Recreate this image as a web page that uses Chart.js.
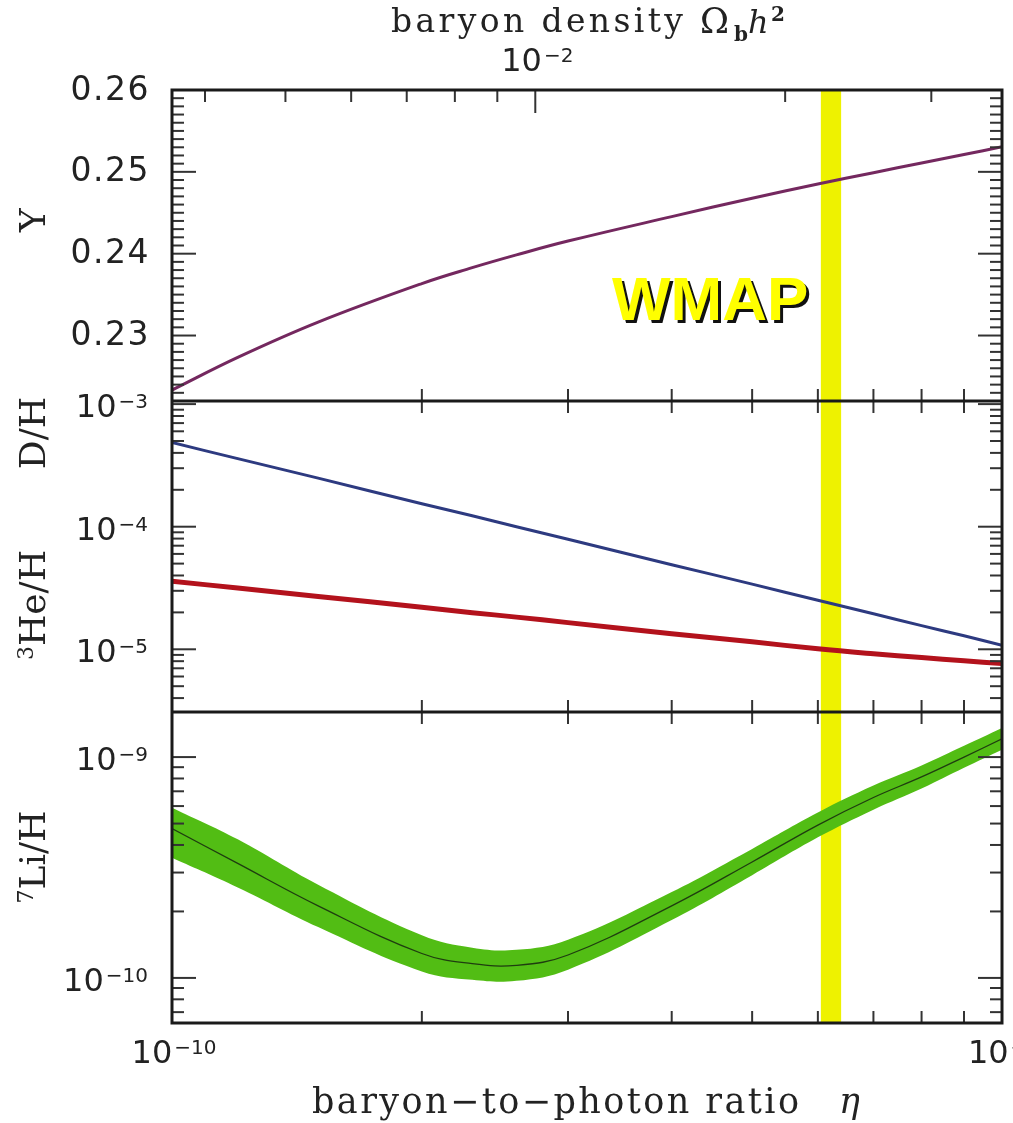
<!DOCTYPE html>
<html>
<head>
<meta charset="utf-8">
<script src="https://cdn.jsdelivr.net/npm/chart.js@4.4.1/dist/chart.umd.min.js"></script>
<style>
  html, body { margin: 0; padding: 0; background: #fff; }
  canvas { display: block; }
</style>
</head>
<body>
<canvas id="bbnChart" width="1013" height="1123"></canvas>
<script>
// baryon-to-photon ratio (eta) grid
const eta = [1.0e-10, 1.2e-10, 1.5e-10, 2.0e-10, 2.3e-10, 2.6e-10, 3.0e-10, 4.0e-10, 5.0e-10, 6.0e-10, 7.0e-10, 8.0e-10, 9.0e-10, 1.0e-9];

// helium-4 mass fraction Y
const heliumY = [0.22334, 0.22733, 0.23164, 0.23635, 0.23829, 0.23985, 0.24154, 0.24453, 0.24678, 0.24852, 0.24990, 0.25108, 0.25211, 0.25306];
// D/H and 3He/H
const deuterium = [4.86e-4, 3.59e-4, 2.49e-4, 1.54e-4, 1.23e-4, 1.0e-4, 7.9e-5, 4.9e-5, 3.4e-5, 2.51e-5, 1.95e-5, 1.56e-5, 1.29e-5, 1.08e-5];
const helium3 = [3.59e-5, 3.16e-5, 2.70e-5, 2.20e-5, 1.99e-5, 1.83e-5, 1.65e-5, 1.34e-5, 1.15e-5, 1.01e-5, 9.2e-6, 8.56e-6, 8.06e-6, 7.65e-6];
// 7Li/H central value and the edges of the green band
const lithium = [4.75e-10, 3.3e-10, 2.12e-10, 1.29e-10, 1.16e-10, 1.14e-10, 1.27e-10, 2.12e-10, 3.35e-10, 4.92e-10, 6.56e-10, 8.13e-10, 1.0e-9, 1.21e-9];
const lithiumHigh = [5.9e-10, 4.24e-10, 2.64e-10, 1.56e-10, 1.37e-10, 1.34e-10, 1.49e-10, 2.45e-10, 3.84e-10, 5.61e-10, 7.43e-10, 9.16e-10, 1.125e-9, 1.355e-9];
const lithiumLow = [3.5e-10, 2.57e-10, 1.70e-10, 1.07e-10, 0.98e-10, 0.97e-10, 1.09e-10, 1.83e-10, 2.92e-10, 4.33e-10, 5.78e-10, 7.21e-10, 8.95e-10, 1.08e-9];

// WMAP band in eta
const wmapEta = [6.05e-10, 6.4e-10];

// axis ranges and tick labels
const etaRange = [1e-10, 1e-9];
const omegaRange = [0.00365, 0.0365];   // Omega_b h^2 = eta / 2.739e-8
const yRange = [0.222, 0.26];
const midRange = [3.08e-6, 1.06e-3];
const liRange = [6.25e-11, 1.6e-9];
const yTickValues = [0.23, 0.24, 0.25, 0.26];
const yTickLabels = ['0.23', '0.24', '0.25', '0.26'];
const midDecades = [-3, -4, -5];
const liDecades = [-9, -10];
const etaDecades = [-10, -9];
const omegaTicks = [0.004, 0.005, 0.006, 0.007, 0.008, 0.009, 0.01, 0.02, 0.03];
const omegaDecades = [-2];

const INK = '#222';
const NUM_FONT = '"DejaVu Sans"';
const TXT_FONT = '"DejaVu Serif"';

function series(values) {
  return eta.map((v, i) => ({ x: v, y: values[i] }));
}

// text stretched with letter spacing so it covers the given width
function spacedText(ctx, text, x, y, width) {
  ctx.letterSpacing = '0px';
  const w0 = ctx.measureText(text).width;
  ctx.letterSpacing = ((width - w0) / (text.length - 1)) + 'px';
  ctx.fillText(text, x, y);
  ctx.letterSpacing = '0px';
}

// "10" with a raised exponent; y is the middle of the "10"
function drawPow(ctx, exp, x, y, align) {
  const label = '\u2212' + Math.abs(exp);
  ctx.font = '32px ' + NUM_FONT;
  const wb = ctx.measureText('10').width;
  ctx.font = '20px ' + NUM_FONT;
  const we = ctx.measureText(label).width;
  const w = wb + 2 + we;
  const left = align === 'right' ? x - w : x - w / 2;
  ctx.textAlign = 'left';
  ctx.textBaseline = 'alphabetic';
  ctx.font = '32px ' + NUM_FONT;
  ctx.fillText('10', left, y + 12);
  ctx.font = '20px ' + NUM_FONT;
  ctx.fillText(label, left + wb + 2, y + 3);
}

// rotated axis title made of runs {t, font, dy}
function drawRotated(ctx, runs, cx, cy) {
  ctx.save();
  ctx.translate(cx, cy);
  ctx.rotate(-Math.PI / 2);
  ctx.textAlign = 'left';
  ctx.textBaseline = 'alphabetic';
  let total = 0;
  runs.forEach(r => { ctx.font = r.font; total += ctx.measureText(r.t).width; });
  let pos = -total / 2;
  runs.forEach(r => {
    ctx.font = r.font;
    ctx.fillText(r.t, pos, 13 + (r.dy || 0));
    pos += ctx.measureText(r.t).width;
  });
  ctx.restore();
}

function logTicks(range) {
  const out = [];
  for (let k = Math.floor(Math.log10(range[0])); k <= Math.ceil(Math.log10(range[1])); k++) {
    for (let m = 1; m <= 9; m++) {
      const v = m * Math.pow(10, k);
      if (v > range[0] * 1.001 && v < range[1] * 0.999) out.push({ v, major: m === 1 });
    }
  }
  return out;
}

const panelPlugin = {
  id: 'panels',
  beforeDatasetsDraw(chart) {
    const { ctx, chartArea: a, scales: { x } } = chart;
    const x0 = x.getPixelForValue(wmapEta[0]);
    const x1 = x.getPixelForValue(wmapEta[1]);
    ctx.save();
    ctx.fillStyle = '#eef200';
    ctx.fillRect(x0, a.top, x1 - x0, a.bottom - a.top);
    ctx.restore();
  },
  afterDatasetsDraw(chart) {
    const { ctx, chartArea: a, scales } = chart;
    const { x, omega, yY, yM, yL } = scales;
    ctx.save();

    // WMAP label
    ctx.font = 'bold 62px "Liberation Sans"';
    ctx.textAlign = 'left';
    ctx.textBaseline = 'alphabetic';
    ctx.fillStyle = '#111';
    ctx.fillText('WMAP', 615, 323);
    ctx.fillStyle = '#ffff00';
    ctx.fillText('WMAP', 612, 320);

    ctx.strokeStyle = '#333';
    ctx.lineWidth = 2;
    const line = (x1, y1, x2, y2) => {
      ctx.beginPath(); ctx.moveTo(x1, y1); ctx.lineTo(x2, y2); ctx.stroke();
    };

    // left / right ticks
    const yTicks = [];
    for (let i = 223; i <= 259; i++) yTicks.push({ v: i / 1000, major: i % 10 === 0 });
    const panels = [
      { s: yY, ticks: yTicks },
      { s: yM, ticks: logTicks(midRange) },
      { s: yL, ticks: logTicks(liRange) }
    ];
    panels.forEach(p => {
      p.ticks.forEach(t => {
        const py = p.s.getPixelForValue(t.v);
        const len = t.major ? 24 : 12;
        line(a.left, py, a.left + len, py);
        line(a.right, py, a.right - len, py);
      });
      // eta ticks on top and bottom edges
      for (let m = 2; m <= 9; m++) {
        const px = x.getPixelForValue(m * 1e-10);
        line(px, p.s.bottom, px, p.s.bottom - 12);
        if (p.s !== yY) line(px, p.s.top, px, p.s.top + 12);
      }
    });

    // Omega_b h^2 ticks on the top edge
    omegaTicks.forEach(v => {
      const px = omega.getPixelForValue(v);
      line(px, a.top, px, a.top + (v === 0.01 ? 23 : 12));
    });

    // frame
    ctx.strokeStyle = '#1a1a1a';
    ctx.lineWidth = 3;
    ctx.strokeRect(a.left, a.top, a.right - a.left, a.bottom - a.top);
    line(a.left, yM.top, a.right, yM.top);
    line(a.left, yL.top, a.right, yL.top);
    ctx.restore();
  },
  afterDraw(chart) {
    const { ctx, scales } = chart;
    const { x, omega, yY, yM, yL } = scales;
    ctx.save();
    ctx.fillStyle = INK;

    // Y tick labels
    ctx.font = '33px ' + NUM_FONT;
    ctx.textAlign = 'right';
    ctx.textBaseline = 'middle';
    ctx.letterSpacing = '1.5px';
    yTickValues.forEach((v, i) => ctx.fillText(yTickLabels[i], 150, yY.getPixelForValue(v) + 1));
    ctx.letterSpacing = '0px';

    midDecades.forEach(k => drawPow(ctx, k, 148, yM.getPixelForValue(Math.pow(10, k)) + 1, 'right'));
    liDecades.forEach(k => drawPow(ctx, k, 148, yL.getPixelForValue(Math.pow(10, k)) + 1, 'right'));
    etaDecades.forEach(k => drawPow(ctx, k, x.getPixelForValue(Math.pow(10, k)) + 2, 1051, 'center'));
    omegaDecades.forEach(k => drawPow(ctx, k, omega.getPixelForValue(Math.pow(10, k)) + 2, 59, 'center'));

    // top title
    ctx.textAlign = 'left';
    ctx.textBaseline = 'alphabetic';
    ctx.font = '33px ' + TXT_FONT;
    spacedText(ctx, 'baryon density', 391, 32, 292);
    ctx.font = '35px ' + TXT_FONT;
    ctx.fillText('\u03A9', 700, 33);
    ctx.font = 'bold 20px ' + TXT_FONT;
    ctx.fillText('b', 734, 41);
    ctx.font = 'italic 32px ' + TXT_FONT;
    ctx.fillText('h', 748, 33);
    ctx.font = 'bold 20px ' + TXT_FONT;
    ctx.fillText('2', 771, 21);

    // x title
    ctx.font = '35px ' + TXT_FONT;
    spacedText(ctx, 'baryon\u2212to\u2212photon ratio', 312, 1113, 487);
    ctx.font = 'italic 35px ' + TXT_FONT;
    ctx.fillText('\u03B7', 839, 1113);

    // y titles
    const big = '36px ' + TXT_FONT;
    const sup = '22px ' + TXT_FONT;
    drawRotated(ctx, [{ t: 'Y', font: big }], 32, 220);
    drawRotated(ctx, [{ t: 'D/H', font: big }], 32, 433);
    drawRotated(ctx, [{ t: '3', font: sup, dy: -12 }, { t: 'He/H', font: big }], 32, 605);
    drawRotated(ctx, [{ t: '7', font: sup, dy: -12 }, { t: 'Li/H', font: big }], 32, 857);
    ctx.restore();
  }
};

const hidden = { display: false };
const flatX = s => { s.height = 0; };
const flatY = s => { s.width = 0; };

new Chart(document.getElementById('bbnChart'), {
  type: 'line',
  data: {
    datasets: [
      { label: 'Y', data: series(heliumY), yAxisID: 'yY', borderColor: '#74285f', borderWidth: 3 },
      { label: 'D/H', data: series(deuterium), yAxisID: 'yM', borderColor: '#2d3a80', borderWidth: 3 },
      { label: '3He/H', data: series(helium3), yAxisID: 'yM', borderColor: '#b3121c', borderWidth: 5 },
      { label: '7Li/H', data: series(lithium), yAxisID: 'yL', borderColor: '#1f3d10', borderWidth: 1.3 },
      { label: '7Li/H upper', data: series(lithiumHigh), yAxisID: 'yL', borderWidth: 0, borderColor: 'rgba(0,0,0,0)', backgroundColor: '#52bd14', fill: '+1' },
      { label: '7Li/H lower', data: series(lithiumLow), yAxisID: 'yL', borderWidth: 0, borderColor: 'rgba(0,0,0,0)', fill: false }
    ]
  },
  options: {
    responsive: false,
    maintainAspectRatio: false,
    animation: false,
    devicePixelRatio: 1,
    layout: { padding: { left: 172, right: 11, top: 90, bottom: 100 } },
    elements: {
      point: { radius: 0 },
      line: { tension: 0.4, fill: false }
    },
    plugins: { legend: hidden, tooltip: { enabled: false } },
    scales: {
      x: { type: 'logarithmic', position: 'bottom', min: etaRange[0], max: etaRange[1], bounds: 'data',
           ticks: hidden, grid: hidden, border: hidden, afterFit: flatX },
      omega: { type: 'logarithmic', position: 'top', min: omegaRange[0], max: omegaRange[1], bounds: 'data',
           ticks: hidden, grid: hidden, border: hidden, afterFit: flatX },
      yY: { type: 'linear', position: 'left', stack: 'bbn', stackWeight: 1, weight: 3, min: yRange[0], max: yRange[1], bounds: 'data',
           ticks: hidden, grid: hidden, border: hidden, afterFit: flatY },
      yM: { type: 'logarithmic', position: 'left', stack: 'bbn', stackWeight: 1, weight: 2, min: midRange[0], max: midRange[1], bounds: 'data',
           ticks: hidden, grid: hidden, border: hidden, afterFit: flatY },
      yL: { type: 'logarithmic', position: 'left', stack: 'bbn', stackWeight: 1, weight: 1, min: liRange[0], max: liRange[1], bounds: 'data',
           ticks: hidden, grid: hidden, border: hidden, afterFit: flatY }
    }
  },
  plugins: [panelPlugin]
});
</script>
</body>
</html>
